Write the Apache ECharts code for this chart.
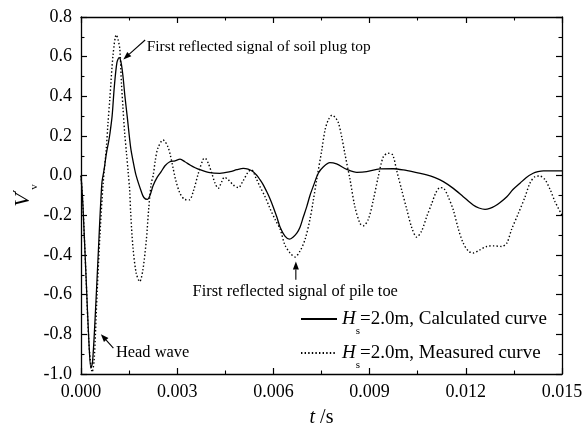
<!DOCTYPE html>
<html>
<head>
<meta charset="utf-8">
<script src="https://cdn.jsdelivr.net/npm/echarts@6/dist/echarts.min.js"></script>
<style>
  html, body { margin: 0; padding: 0; background: #fff; }
  #chart { width: 585px; height: 425px; }
</style>
</head>
<body>
<div id="chart"></div>
<script>
// Pile-head velocity response V'v versus time t (s), soil plug height Hs = 2.0 m

// Calculated curve (solid)
const tCalc = [0, 0.00006, 0.00016, 0.00025, 0.00031, 0.00036, 0.00044, 0.00053, 0.00065, 0.00072,
  0.00079, 0.00086, 0.00090, 0.00097, 0.00104, 0.00112, 0.00119, 0.00125, 0.00131, 0.00137,
  0.00144, 0.00155, 0.00164, 0.00172, 0.00188, 0.00196, 0.00207, 0.00215, 0.00225, 0.00237,
  0.00250, 0.00262, 0.00277, 0.00293, 0.00309, 0.00324, 0.00340, 0.00356, 0.00371, 0.00402,
  0.00433, 0.00465, 0.00486, 0.00506, 0.00521, 0.00537, 0.00549, 0.00558, 0.00568, 0.00579,
  0.00589, 0.00600, 0.00611, 0.00621, 0.00636, 0.00650, 0.00661, 0.00673, 0.00683, 0.00693,
  0.00704, 0.00714, 0.00724, 0.00740, 0.00756, 0.00776, 0.00797, 0.00829, 0.00860, 0.00891,
  0.00932, 0.00974, 0.01005, 0.01047, 0.01078, 0.01104, 0.01130, 0.01161, 0.01192, 0.01223,
  0.01241, 0.01260, 0.01275, 0.01291, 0.01307, 0.01328, 0.01347, 0.01369, 0.01388, 0.01410,
  0.01425, 0.01442, 0.01500];
const vCalc = [0, -0.15, -0.52, -0.85, -0.97, -0.94, -0.72, -0.42, -0.04, 0.03,
  0.11, 0.17, 0.21, 0.30, 0.45, 0.57, 0.595, 0.57, 0.50, 0.40,
  0.30, 0.14, 0.06, 0.0, -0.08, -0.11, -0.12, -0.10, -0.05, -0.01,
  0.02, 0.05, 0.07, 0.075, 0.083, 0.07, 0.054, 0.04, 0.03, 0.015,
  0.012, 0.02, 0.03, 0.037, 0.033, 0.02, 0.0, -0.02, -0.045, -0.08,
  -0.115, -0.16, -0.21, -0.26, -0.305, -0.32, -0.31, -0.29, -0.26, -0.21,
  -0.156, -0.10, -0.055, 0.012, 0.045, 0.066, 0.059, 0.032, 0.017, 0.02,
  0.034, 0.035, 0.029, 0.015, 0.004, -0.01, -0.03, -0.064, -0.106, -0.148,
  -0.163, -0.17, -0.165, -0.153, -0.135, -0.106, -0.07, -0.038, -0.01, 0.012,
  0.02, 0.024, 0.024];

// Measured curve (dotted)
const tMeas = [0, 0.00006, 0.00016, 0.00025, 0.00035, 0.00041, 0.00050, 0.00059, 0.00069, 0.00079,
  0.00084, 0.00090, 0.00100, 0.00110, 0.00115, 0.00121, 0.00126, 0.00131, 0.00136, 0.00142,
  0.00147, 0.00152, 0.00155, 0.00162, 0.00172, 0.00183, 0.00193, 0.00204, 0.00211, 0.00219,
  0.00225, 0.00232, 0.00240, 0.00256, 0.00271, 0.00279, 0.00287, 0.00295, 0.00309, 0.00324,
  0.00338, 0.00350, 0.00366, 0.00381, 0.00387, 0.00397, 0.00408, 0.00418, 0.00428, 0.00439,
  0.00447, 0.00459, 0.00475, 0.00491, 0.00504, 0.00522, 0.00532, 0.00546, 0.00558, 0.00574,
  0.00589, 0.00605, 0.00621, 0.00636, 0.00652, 0.00667, 0.00683, 0.00699, 0.00714, 0.00725,
  0.00735, 0.00751, 0.00761, 0.00771, 0.00783, 0.00792, 0.00802, 0.00813, 0.00823, 0.00839,
  0.00854, 0.00870, 0.00880, 0.00896, 0.00912, 0.00927, 0.00943, 0.00958, 0.00972, 0.00984,
  0.01000, 0.01016, 0.01031, 0.01047, 0.01062, 0.01078, 0.01094, 0.01107, 0.01120, 0.01132,
  0.01145, 0.01161, 0.01177, 0.01192, 0.01208, 0.01223, 0.01244, 0.01265, 0.01286, 0.01312,
  0.01328, 0.01343, 0.01364, 0.01385, 0.01400, 0.01416, 0.01431, 0.01447, 0.01463, 0.01478,
  0.01500];
const vMeas = [0, -0.15, -0.52, -0.85, -0.99, -0.93, -0.60, -0.30, -0.04, 0.14,
  0.26, 0.39, 0.61, 0.71, 0.69, 0.64, 0.47, 0.34, 0.22, 0.11,
  0.02, -0.08, -0.19, -0.36, -0.49, -0.534, -0.475, -0.32, -0.17, -0.04,
  0.0, 0.08, 0.14, 0.18, 0.146, 0.10, 0.04, -0.02, -0.09, -0.12,
  -0.122, -0.08, 0.012, 0.083, 0.088, 0.062, 0.012, -0.038, -0.064, -0.03,
  -0.008, -0.02, -0.047, -0.06, -0.03, 0.02, 0.029, -0.013, -0.055, -0.106,
  -0.164, -0.22, -0.27, -0.35, -0.39, -0.41, -0.38, -0.32, -0.22, -0.12,
  -0.02, 0.13, 0.23, 0.28, 0.305, 0.295, 0.27, 0.196, 0.11, -0.02,
  -0.156, -0.24, -0.253, -0.22, -0.12, -0.005, 0.096, 0.113, 0.104, 0.029,
  -0.072, -0.17, -0.26, -0.31, -0.28, -0.207, -0.14, -0.085, -0.06, -0.065,
  -0.106, -0.173, -0.27, -0.34, -0.38, -0.39, -0.374, -0.357, -0.354, -0.357,
  -0.34, -0.27, -0.19, -0.106, -0.038, -0.005, -0.002, -0.02, -0.07, -0.13,
  -0.20];

// Legend entries: italic symbol, subscript, remainder
const seriesNames = ['Calculated curve', 'Measured curve'];
const legendParts = [
  ['H', 's', '=2.0m, Calculated curve'],
  ['H', 's', '=2.0m, Measured curve']
];

// Axis ranges and tick steps
const xRange = [0, 0.015], xStep = 0.003;
const yRange = [-1.0, 0.8], yStep = 0.2;

// Callouts: text anchor (left-middle), arrow tail, arrow head — in data units
const callouts = [
  { text: 'First reflected signal of soil plug top', size: 15.4, at: [0.00205, 0.650], from: [0.00200, 0.684], to: [0.00132, 0.586] },
  { text: 'First reflected signal of pile toe', size: 16.4, at: [0.00348, -0.584], from: [0.00670, -0.525], to: [0.00670, -0.433] },
  { text: 'Head wave', size: 16.4, at: [0.00109, -0.895], from: [0.00101, -0.870], to: [0.00062, -0.799] }
];

const zip = (a, b) => a.map((x, i) => [x, b[i]]);
const SERIF = '"Liberation Serif", "Times New Roman", serif';
const INK = '#000';

const fmt = (v, d) => (Math.abs(v) < 1e-12 ? 0 : v).toFixed(d);

function xAxisDef(pos, showLabel) {
  return {
    type: 'value', position: pos, min: xRange[0], max: xRange[1], interval: xStep,
    axisLine: { show: true, onZero: false, lineStyle: { color: INK, width: 1.3 } },
    axisTick: { show: true, inside: true, length: 6, lineStyle: { color: INK, width: 1.2 } },
    minorTick: { show: true, splitNumber: 2, length: 3.5, lineStyle: { color: INK, width: 1.1 } },
    splitLine: { show: false }, minorSplitLine: { show: false },
    axisLabel: { show: showLabel, formatter: v => fmt(v, 3), fontFamily: SERIF, fontSize: 18, color: INK, margin: 9 },
    name: showLabel ? '{i|t} /s' : '',
    nameLocation: 'middle', nameGap: 34, nameMoveOverlap: false,
    nameTextStyle: { fontFamily: SERIF, fontSize: 20, color: INK,
      rich: { i: { fontFamily: SERIF, fontSize: 20, fontStyle: 'italic', color: INK } } }
  };
}
function yAxisDef(pos, showLabel) {
  return {
    type: 'value', position: pos, min: yRange[0], max: yRange[1], interval: yStep,
    axisLine: { show: true, onZero: false, lineStyle: { color: INK, width: 1.3 } },
    axisTick: { show: true, inside: true, length: 6, lineStyle: { color: INK, width: 1.2 } },
    minorTick: { show: true, splitNumber: 2, length: 3.5, lineStyle: { color: INK, width: 1.1 } },
    splitLine: { show: false }, minorSplitLine: { show: false },
    axisLabel: { show: showLabel, formatter: v => fmt(v, 1), fontFamily: SERIF, fontSize: 18, color: INK, margin: 9 },
    name: showLabel ? '{v|V}{p|′}{s|v}' : '',
    nameLocation: 'middle', nameGap: 47, nameRotate: 90, nameMoveOverlap: false,
    nameTextStyle: { fontFamily: SERIF, fontSize: 22, color: INK,
      rich: {
        v: { fontFamily: SERIF, fontSize: 22, fontStyle: 'italic', color: INK, lineHeight: 22 },
        p: { fontFamily: '"DejaVu Serif", serif', fontSize: 16, color: INK, lineHeight: 22, padding: [0, 0, 4, 0] },
        s: { fontFamily: SERIF, fontSize: 11, color: INK, lineHeight: 11, padding: [22, 0, 0, 0] }
      } }
  };
}

const legendRich = {
  h: { fontFamily: SERIF, fontSize: 19, fontStyle: 'italic', color: INK, lineHeight: 20 },
  s: { fontFamily: SERIF, fontSize: 11, color: INK, lineHeight: 11, padding: [25, 0, 0, 0] },
  n: { fontFamily: SERIF, fontSize: 19, color: INK, lineHeight: 20 }
};

const option = {
  animation: false,
  backgroundColor: '#fff',
  grid: { left: 81, right: 23, top: 17, bottom: 51, containLabel: false, outerBoundsMode: 'none' },
  xAxis: [xAxisDef('bottom', true), xAxisDef('top', false)],
  yAxis: [yAxisDef('left', true), yAxisDef('right', false)],
  legend: {
    orient: 'vertical', left: 300, top: 301, itemGap: -2, padding: 0,
    itemWidth: 36, itemHeight: 2,
    itemStyle: { color: 'rgba(0,0,0,0)', borderWidth: 0 },
    selectedMode: false,
    data: seriesNames,
    formatter: name => {
      const p = legendParts[seriesNames.indexOf(name)];
      return '{h|' + p[0] + '}{s|' + p[1] + '}{n|' + p[2] + '}';
    },
    textStyle: { fontFamily: SERIF, fontSize: 19, color: INK, rich: legendRich }
  },
  series: [
    {
      name: seriesNames[0], type: 'line', data: zip(tCalc, vCalc),
      symbol: 'none', showSymbol: false, smooth: 0.3,
      lineStyle: { color: INK, width: 1.3, type: 'solid' },
      itemStyle: { color: INK }, z: 3
    },
    {
      name: seriesNames[1], type: 'line', data: zip(tMeas, vMeas),
      symbol: 'none', showSymbol: false, smooth: 0.3,
      lineStyle: { color: INK, width: 1.4, type: [1.4, 2.2] },
      itemStyle: { color: INK }, z: 2
    }
  ]
};

const chart = echarts.init(document.getElementById('chart'), null, { renderer: 'canvas' });
chart.setOption(option);

// Callout texts and arrows, placed through the grid's coordinate conversion
const toPx = p => chart.convertToPixel({ seriesIndex: 0 }, p);
const graphics = [];
callouts.forEach(c => {
  const a = toPx(c.at), f = toPx(c.from), h = toPx(c.to);
  graphics.push({
    type: 'text', x: a[0], y: a[1], z: 10,
    style: { text: c.text, fontFamily: SERIF, fontSize: c.size, fill: INK, verticalAlign: 'middle', align: 'left' }
  });
  const dx = h[0] - f[0], dy = h[1] - f[1];
  const len = Math.hypot(dx, dy), ux = dx / len, uy = dy / len;
  const headLen = 8, headHalf = 3;
  const bx = h[0] - ux * headLen, by = h[1] - uy * headLen;
  graphics.push({
    type: 'line', z: 10,
    shape: { x1: f[0], y1: f[1], x2: bx, y2: by },
    style: { stroke: INK, lineWidth: 1.1 }
  });
  graphics.push({
    type: 'polygon', z: 10,
    shape: { points: [[h[0], h[1]], [bx - uy * headHalf, by + ux * headHalf], [bx + uy * headHalf, by - ux * headHalf]] },
    style: { fill: INK }
  });
});
chart.setOption({ graphic: graphics });
</script>
</body>
</html>
